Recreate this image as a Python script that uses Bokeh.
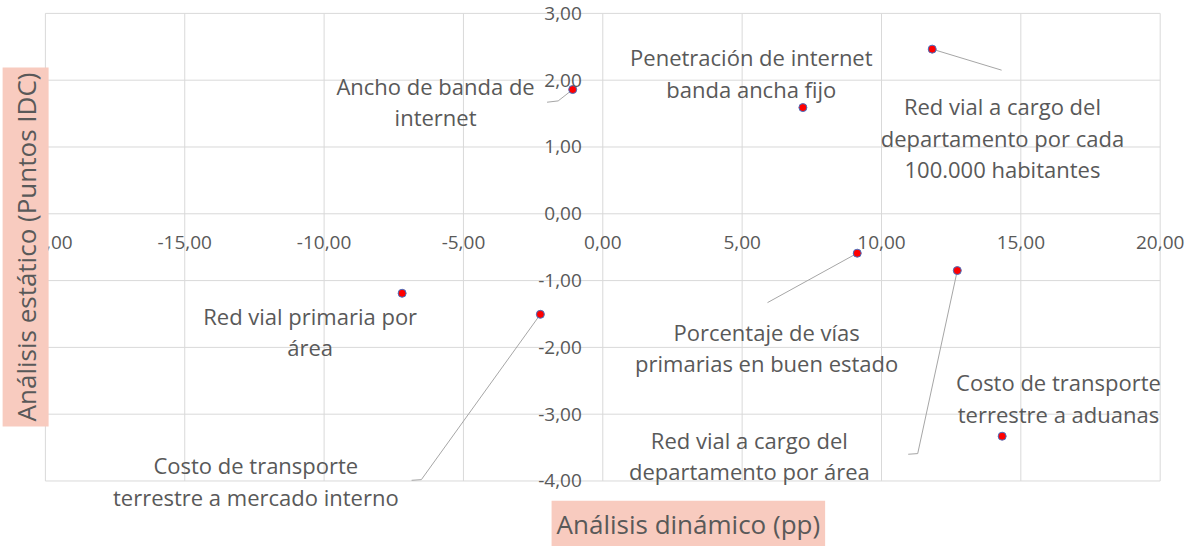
import math
from bokeh.plotting import figure
from bokeh.models import Range1d, ColumnDataSource, LabelSet, Label
from bokeh.core.properties import value
from bokeh.embed import file_html
from bokeh.resources import INLINE

# ---- data ----
names = [
    "Ancho de banda de\ninternet",
    "Penetración de internet\nbanda ancha fijo",
    "Red vial a cargo del\ndepartamento por cada\n100.000 habitantes",
    "Porcentaje de vías\nprimarias en buen estado",
    "Red vial a cargo del\ndepartamento por área",
    "Costo de transporte\nterrestre a aduanas",
    "Red vial primaria por\nárea",
    "Costo de transporte\nterrestre a mercado interno",
]
x_dynamic = [-1.08, 7.18, 11.82, 9.13, 12.72, 14.33, -7.20, -2.24]
y_static = [1.86, 1.59, 2.465, -0.59, -0.85, -3.33, -1.19, -1.505]

# label anchor (center of text block) for every point
label_x = [-6.0, 5.33, 14.34, 5.88, 5.26, 16.35, -10.5, -12.45]
label_y = [1.68, 2.11, 1.135, -2.0, -3.615, -2.76, -1.76, -4.0]

# leader lines (point -> label)
leader_xs = [[-1.08, -1.6, -2.0], [11.82, 14.31], [9.13, 5.91],
             [12.72, 11.3, 10.96], [-2.24, -6.51, -6.86]]
leader_ys = [[1.86, 1.69, 1.67], [2.465, 2.15], [-0.59, -1.33],
             [-0.85, -3.59, -3.60], [-1.505, -3.98, -3.99]]

x_ticks = [-20, -15, -10, -5, 0, 5, 10, 15, 20]
y_ticks = [-4, -3, -2, -1, 0, 1, 2, 3]
x_tick_labels = [f"{v:.2f}".replace(".", ",") for v in x_ticks]
y_tick_labels = [f"{v:.2f}".replace(".", ",") for v in y_ticks]

x_title = "Análisis dinámico (pp)"
y_title = "Análisis estático (Puntos IDC)"

FONT = "Open Sans"
TXT = "#595959"
GRID = "#d9d9d9"
SALMON = "#f8cbbf"
LINE_PX = 31.5  # spacing between lines of a point label

# the frame covers the whole canvas so that nothing is clipped
p = figure(width=1188, height=546, output_backend="svg", toolbar_location=None,
           x_range=Range1d(-21.611, 21.016), y_range=Range1d(-4.981, 3.193),
           min_border=0)
p.xaxis.visible = False
p.yaxis.visible = False
p.grid.visible = False
p.outline_line_color = None
p.background_fill_color = "white"
p.border_fill_color = "white"

# grid lines of the chart area (axes cross at zero)
x_lo, x_hi = min(x_ticks), max(x_ticks)
y_lo, y_hi = min(y_ticks), max(y_ticks)
p.segment(x0=x_ticks, y0=[y_lo] * len(x_ticks), x1=x_ticks, y1=[y_hi] * len(x_ticks),
          line_color=GRID, line_width=1)
p.segment(x0=[x_lo] * len(y_ticks), y0=y_ticks, x1=[x_hi] * len(y_ticks), y1=y_ticks,
          line_color=GRID, line_width=1)

# leader lines
p.multi_line(xs=leader_xs, ys=leader_ys, line_color="#a6a6a6", line_width=1)

# points
p.scatter(x=x_dynamic, y=y_static, size=8, fill_color="#ff0000",
          line_color="#4472c4", line_width=1)

# tick labels
xt_src = ColumnDataSource(dict(x=x_ticks, y=[0] * len(x_ticks), t=x_tick_labels))
yt_src = ColumnDataSource(dict(x=[0] * len(y_ticks), y=y_ticks, t=y_tick_labels))
p.add_layout(LabelSet(x="x", y="y", text="t", source=xt_src, y_offset=-29,
                      text_align="center", text_baseline="middle",
                      text_font=value(FONT), text_font_size="19px", text_color=TXT))
p.add_layout(LabelSet(x="x", y="y", text="t", source=yt_src, x_offset=-21,
                      text_align="right", text_baseline="middle",
                      text_font=value(FONT), text_font_size="19px", text_color=TXT))

# point labels: one row per text line so every line is centred
lx, ly, lt, loff = [], [], [], []
for name, cx, cy in zip(names, label_x, label_y):
    lines = name.split("\n")
    n = len(lines)
    for i, line in enumerate(lines):
        lx.append(cx)
        ly.append(cy)
        lt.append(line)
        loff.append(((n - 1) / 2 - i) * LINE_PX)
lab_src = ColumnDataSource(dict(x=lx, y=ly, t=lt, off=loff))
p.add_layout(LabelSet(x="x", y="y", text="t", y_offset="off", source=lab_src,
                      text_align="center", text_baseline="middle",
                      text_font=value(FONT), text_font_size="22px", text_color=TXT))

# axis titles with salmon background
p.add_layout(Label(x=3.07, y=-4.64, text=x_title, text_align="center",
                   text_baseline="middle", text_font=FONT, text_font_size="26px",
                   text_color=TXT, background_fill_color=SALMON, padding=5))
p.add_layout(Label(x=-20.71, y=-0.497, text=y_title, angle=math.pi / 2,
                   text_align="center", text_baseline="middle", text_font=FONT,
                   text_font_size="26px", text_color=TXT,
                   background_fill_color=SALMON, padding=5))

open("out.html", "w").write(file_html(p, INLINE))
